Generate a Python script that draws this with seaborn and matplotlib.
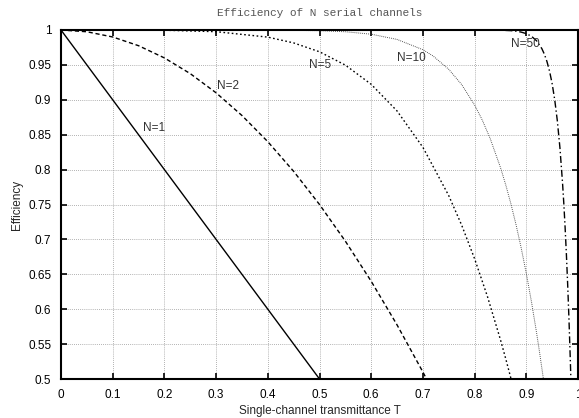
import matplotlib
matplotlib.use("Agg")
import matplotlib.pyplot as plt
import seaborn as sns
import pandas as pd

# Values
t_n1 = [0.0, 0.5]
e_n1 = [1.0, 0.5]

t_n2 = [0.0, 0.05, 0.1, 0.15, 0.2, 0.25, 0.3, 0.35, 0.4, 0.45, 0.5, 0.55, 0.6, 0.65, 0.7, 0.707]
e_n2 = [1.0, 0.9975, 0.99, 0.9775, 0.96, 0.9375, 0.91, 0.8775, 0.84, 0.7975, 0.75, 0.6975, 0.64, 0.5775, 0.51, 0.5]

t_n5 = [0.0, 0.1, 0.2, 0.3, 0.4, 0.45, 0.5, 0.55, 0.6, 0.65, 0.7, 0.75, 0.775, 0.8, 0.825, 0.85, 0.86, 0.87, 0.8706]
e_n5 = [1.0, 0.9999, 0.9997, 0.9976, 0.9898, 0.9815, 0.9688, 0.9497, 0.9222, 0.884, 0.8319, 0.7627, 0.7204, 0.6723, 0.6178, 0.5563, 0.5296, 0.5016, 0.5]

t_n10 = [0.0, 0.3, 0.4, 0.5, 0.55, 0.6, 0.65, 0.7, 0.72, 0.75, 0.775, 0.8, 0.815, 0.83, 0.85, 0.86,
         0.87, 0.88, 0.89, 0.9, 0.91, 0.92, 0.925, 0.93, 0.933]
e_n10 = [1.0, 1.0, 0.9999, 0.999, 0.9975, 0.994, 0.9865, 0.9718, 0.9626, 0.9437, 0.9218, 0.8926, 0.8707, 0.8448, 0.8031, 0.7787,
         0.7516, 0.7215, 0.6882, 0.6513, 0.6106, 0.5656, 0.5414, 0.516, 0.5002]

t_n50 = [0.0, 0.6, 0.8, 0.85, 0.87, 0.88, 0.89, 0.9, 0.91, 0.92, 0.93, 0.935, 0.94, 0.945, 0.95, 0.955, 0.96,
         0.965, 0.97, 0.9725, 0.975, 0.9775, 0.98, 0.9825, 0.985, 0.9862]
e_n50 = [1.0, 1.0, 1.0, 0.9997, 0.9991, 0.9983, 0.997, 0.9948, 0.991, 0.9845, 0.9734, 0.9653, 0.9547, 0.9409, 0.9231, 0.8999, 0.8701,
         0.8316, 0.7819, 0.752, 0.718, 0.6795, 0.6358, 0.5864, 0.5303, 0.5008]

labels = ["N=1", "N=2", "N=5", "N=10", "N=50"]
label_t = [0.158, 0.302, 0.48, 0.65, 0.87]
label_e = [0.86, 0.92, 0.95, 0.96, 0.98]

x_ticks = [0, 0.1, 0.2, 0.3, 0.4, 0.5, 0.6, 0.7, 0.8, 0.9, 1.0]
x_tick_labels = ["0", "0.1", "0.2", "0.3", "0.4", "0.5", "0.6", "0.7", "0.8", "0.9", "1"]
y_ticks = [0.5, 0.55, 0.6, 0.65, 0.7, 0.75, 0.8, 0.85, 0.9, 0.95, 1.0]
y_tick_labels = ["0.5", "0.55", "0.6", "0.65", "0.7", "0.75", "0.8", "0.85", "0.9", "0.95", "1"]

sns.set_theme(style="ticks")
plt.rcParams['font.family'] = ['Liberation Sans', 'DejaVu Sans']

fig = plt.figure(figsize=(5.79, 4.18), dpi=100)
ax = fig.add_axes([61/579, 1 - 379/418, (578 - 61)/579, (379 - 30)/418])

curves = [
    (t_n1, e_n1, dict(linestyle="-", linewidth=1.0, color="black")),
    (t_n2, e_n2, dict(linestyle=(0, (3, 2)), linewidth=1.0, color="black")),
    (t_n5, e_n5, dict(linestyle=(0, (1.2, 1.8)), linewidth=1.0, color="black")),
    (t_n10, e_n10, dict(linestyle=(0, (0.8, 1.2)), linewidth=0.7, color="#333333")),
    (t_n50, e_n50, dict(linestyle=(0, (5, 2, 1, 2)), linewidth=1.0, color="black")),
]
for tt, ee, kw in curves:
    df = pd.DataFrame({"T": tt, "E": ee})
    sns.lineplot(data=df, x="T", y="E", ax=ax, sort=False, estimator=None, **kw)

for lab, lt, le in zip(labels, label_t, label_e):
    ax.text(lt, le, lab, ha="left", va="center", fontsize=8.5, color="#333333")

ax.set_xlim(0, 1)
ax.set_ylim(0.5, 1)
ax.set_xticks(x_ticks)
ax.set_xticklabels(x_tick_labels, fontsize=8.5)
ax.set_yticks(y_ticks)
ax.set_yticklabels(y_tick_labels, fontsize=8.5)
ax.grid(True, linestyle=(0, (1, 1.5)), linewidth=0.6, color="#999999")
ax.tick_params(axis="x", direction="in", length=4, width=1.2, top=True, pad=7, colors="black")
ax.tick_params(axis="y", direction="in", length=4, width=1.2, right=True, pad=7, colors="black")
for s in ax.spines.values():
    s.set_linewidth(1.5)
    s.set_color("black")

ax.set_xlabel("Single-channel transmittance T", fontsize=8.5, labelpad=3)
ax.set_ylabel("Efficiency", fontsize=8.5, labelpad=4)
ax.set_title("Efficiency of N serial channels", fontsize=8, family=["Liberation Mono", "DejaVu Sans Mono"],
             color="#555555", pad=10)

fig.savefig("out.png", dpi=100)
